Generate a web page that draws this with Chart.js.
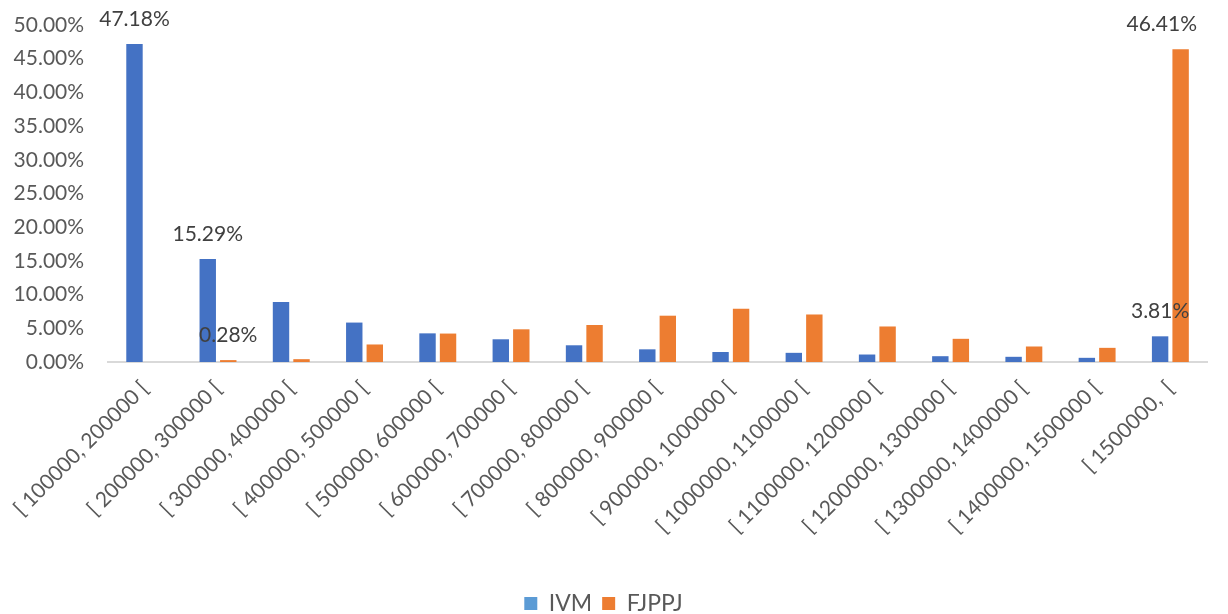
<!DOCTYPE html>
<html>
<head>
<meta charset="utf-8">
<script src="https://cdn.jsdelivr.net/npm/chart.js@4.4.0/dist/chart.umd.min.js"></script>
<style>
  html, body { margin: 0; padding: 0; background: #ffffff; }
  #wrap { width: 1228px; height: 614px; position: relative; }
</style>
</head>
<body>
<div id="wrap"><canvas id="c" width="1228" height="614"></canvas></div>
<script>
const categories = [
  "[ 100000, 200000 [", "[ 200000, 300000 [", "[ 300000, 400000 [", "[ 400000, 500000 [",
  "[ 500000, 600000 [", "[ 600000, 700000 [", "[ 700000, 800000 [", "[ 800000, 900000 [",
  "[ 900000, 1000000 [", "[ 1000000, 1100000 [", "[ 1100000, 1200000 [", "[ 1200000, 1300000 [",
  "[ 1300000, 1400000 [", "[ 1400000, 1500000 [", "[ 1500000,  ["
];
const ivmValues   = [47.18, 15.29, 8.90, 5.85, 4.25, 3.37, 2.48, 1.88, 1.48, 1.36, 1.11, 0.86, 0.77, 0.62, 3.81];
const fjppjValues = [0.00, 0.28, 0.42, 2.60, 4.22, 4.85, 5.49, 6.87, 7.91, 7.05, 5.27, 3.44, 2.30, 2.10, 46.41];
const ivmLabels   = [true, true, false, false, false, false, false, false, false, false, false, false, false, false, true];
const fjppjLabels = [false, true, false, false, false, false, false, false, false, false, false, false, false, false, true];
const yTicks = [0, 5, 10, 15, 20, 25, 30, 35, 40, 45, 50];

const FONT = "Lato, 'Open Sans', sans-serif";

const dataLabelPlugin = {
  id: 'dataLabelPlugin',
  afterDatasetsDraw(chart) {
    const ctx = chart.ctx;
    const area = chart.chartArea;
    const flags = [ivmLabels, fjppjLabels];
    ctx.save();
    ctx.font = "21px " + FONT;
    ctx.fillStyle = "#404040";
    ctx.textAlign = "center";
    ctx.textBaseline = "middle";
    chart.data.datasets.forEach((ds, di) => {
      const meta = chart.getDatasetMeta(di);
      meta.data.forEach((bar, i) => {
        if (!flags[di][i]) return;
        const txt = ds.data[i].toFixed(2) + "%";
        const w = ctx.measureText(txt).width;
        let x = bar.x;
        if (x + w / 2 > area.right - 10) x = area.right - 10 - w / 2;
        ctx.fillText(txt, x, bar.y - 25);
      });
    });
    ctx.restore();
  }
};

new Chart(document.getElementById('c'), {
  type: 'bar',
  data: {
    labels: categories,
    datasets: [
      { label: 'IVM', data: ivmValues, backgroundColor: '#4472C4',
        categoryPercentage: 0.56, barPercentage: 0.8 },
      { label: 'FJPPJ', data: fjppjValues, backgroundColor: '#ED7D31',
        categoryPercentage: 0.56, barPercentage: 0.8 }
    ]
  },
  options: {
    responsive: false,
    animation: false,
    layout: { padding: { top: 25, right: 21, left: 0, bottom: -11 } },
    plugins: {
      legend: {
        position: 'bottom',
        labels: {
          font: { family: FONT, size: 23 },
          color: '#595959',
          boxWidth: 13, boxHeight: 13,
          padding: 10,
          generateLabels(chart) {
            const base = Chart.defaults.plugins.legend.labels.generateLabels(chart);
            base.forEach(l => {
              if (l.text === 'IVM') { l.fillStyle = '#5B9BD5'; }
              l.strokeStyle = 'rgba(0,0,0,0)';
              l.lineWidth = 0;
            });
            return base;
          }
        }
      },
      tooltip: { enabled: false }
    },
    scales: {
      x: {
        grid: { display: false, drawTicks: false },
        border: { color: '#D9D9D9', width: 2 },
        ticks: {
          font: { family: FONT, size: 21 },
          color: '#595959',
          minRotation: 45, maxRotation: 45,
          autoSkip: false,
          padding: 14
        },
        afterFit(scale) { scale.height = 220; }
      },
      y: {
        min: 0, max: 50,
        grid: { display: false, drawTicks: false },
        border: { display: false },
        afterBuildTicks(scale) { scale.ticks = yTicks.map(v => ({ value: v })); },
        ticks: {
          font: { family: FONT, size: 21 },
          color: '#595959',
          padding: 24,
          callback: v => v.toFixed(2) + '%'
        },
        afterFit(scale) {
          scale.width = 106;
          scale.paddingTop = 0;
          scale.paddingBottom = 0;
        }
      }
    }
  },
  plugins: [dataLabelPlugin]
});
</script>
</body>
</html>
